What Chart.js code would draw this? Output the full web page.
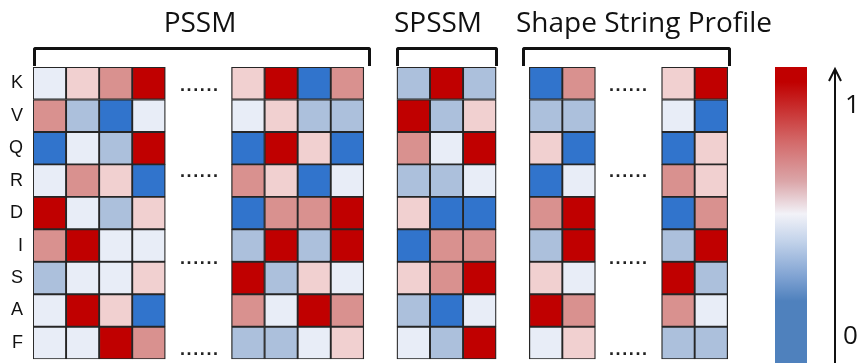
<!DOCTYPE html>
<html>
<head>
<meta charset="utf-8">
<script src="https://cdn.jsdelivr.net/npm/chart.js@4"></script>
<style>
  html, body { margin: 0; padding: 0; background: #fff; overflow: hidden; }
  #wrap { position: relative; width: 858px; height: 363px; overflow: hidden; }
  canvas { position: absolute; left: 0; top: 0; }
  .title { position: absolute; font-family: "Open Sans", sans-serif; font-size: 28px; line-height: 28px; color: #111; text-align: center; white-space: nowrap; }
  .bracket { position: absolute; border: 3px solid #111; border-bottom: none; border-radius: 3px 3px 0 0; height: 16px; }
  .dots { position: absolute; font-family: "Liberation Sans", Arial, sans-serif; font-size: 18px; line-height: 18px; letter-spacing: 1.6px; color: #222; font-weight: bold; }
  .cbar { position: absolute; left: 775px; top: 67px; width: 32px; height: 300px;
    background: linear-gradient(to bottom, #c00000 0%, #c00000 5%, #d36a6a 25%, #dba5a8 38%, #f2f2f8 49%, #c3d3ea 58%, #7fa2d2 70%, #4f81bd 78%, #4f81bd 100%); }
  .cl { position: absolute; font-family: "Open Sans", sans-serif; font-size: 26px; line-height: 26px; color: #111; }
</style>
</head>
<body>
<div id="wrap">
  <canvas id="heat" width="858" height="380"></canvas>

  <div class="title" style="left:100px; top:7px; width:200px;">PSSM</div>
  <div class="title" style="left:338px; top:7px; width:200px;">SPSSM</div>
  <div class="title" style="left:494px; top:7px; width:300px;">Shape String Profile</div>

  <div class="bracket" style="left:33px; top:47px; width:332px;"></div>
  <div class="bracket" style="left:396px; top:47px; width:96px;"></div>
  <div class="bracket" style="left:522px; top:47px; width:203px;"></div>

  <div class="dots" style="left:180px; top:76px;">......</div>
  <div class="dots" style="left:180px; top:162px;">......</div>
  <div class="dots" style="left:180px; top:249px;">......</div>
  <div class="dots" style="left:180px; top:340px;">......</div>
  <div class="dots" style="left:609px; top:76px;">......</div>
  <div class="dots" style="left:609px; top:162px;">......</div>
  <div class="dots" style="left:609px; top:249px;">......</div>
  <div class="dots" style="left:609px; top:340px;">......</div>

  <div class="cbar"></div>
  <svg style="position:absolute; left:820px; top:60px;" width="30" height="310">
    <line x1="15" y1="9" x2="15" y2="310" stroke="#111" stroke-width="2"/>
    <polyline points="9,21 15,9 21,21" fill="none" stroke="#111" stroke-width="2"/>
  </svg>
  <div class="cl" style="left:845px; top:90px;">1</div>
  <div class="cl" style="left:843px; top:321px;">0</div>
</div>

<script>
// amino acid rows, top to bottom
const rows = ['K', 'V', 'Q', 'R', 'D', 'I', 'S', 'A', 'F'];

// normalised values (0 = blue, 1 = red), one inner array per row
const pssmLeft = [
  [0.45, 0.6, 0.75, 1],
  [0.75, 0.25, 0, 0.45],
  [0, 0.45, 0.25, 1],
  [0.45, 0.75, 0.6, 0],
  [1, 0.45, 0.25, 0.6],
  [0.75, 1, 0.45, 0.45],
  [0.25, 0.45, 0.45, 0.6],
  [0.45, 1, 0.6, 0],
  [0.45, 0.45, 1, 0.75]
];
const pssmRight = [
  [0.6, 1, 0, 0.75],
  [0.45, 0.6, 0.25, 0.25],
  [0, 1, 0.6, 0],
  [0.75, 0.6, 0, 0.45],
  [0, 0.75, 0.75, 1],
  [0.25, 1, 0.25, 1],
  [1, 0.25, 0.6, 0.45],
  [0.75, 0.45, 1, 0.75],
  [0.25, 0.25, 0.45, 0.6]
];
const spssm = [
  [0.25, 1, 0.25],
  [1, 0.25, 0.6],
  [0.75, 0.45, 1],
  [0.25, 0.25, 0.45],
  [0.6, 0, 0],
  [0, 0.75, 0.75],
  [0.6, 0.75, 1],
  [0.25, 0, 0.45],
  [0.45, 0.25, 1]
];
const sspLeft = [
  [0, 0.75],
  [0.25, 0.25],
  [0.6, 0],
  [0, 0.45],
  [0.75, 1],
  [0.25, 1],
  [0.6, 0.45],
  [1, 0.75],
  [0.45, 0.6]
];
const sspRight = [
  [0.6, 1],
  [0.45, 0],
  [0, 0.6],
  [0.75, 0.6],
  [0, 0.75],
  [0.25, 1],
  [1, 0.25],
  [0.75, 0.45],
  [0.25, 0.25]
];

// colour stops for the blue-white-red scale
const palette = [
  [0, [49, 116, 204]],
  [0.25, [172, 192, 220]],
  [0.45, [232, 237, 247]],
  [0.6, [241, 208, 208]],
  [0.75, [217, 145, 143]],
  [1, [192, 0, 0]]
];

function colorFor(v) {
  for (let i = 1; i < palette.length; i++) {
    const [v1, c1] = palette[i];
    const [v0, c0] = palette[i - 1];
    if (v <= v1) {
      const t = (v - v0) / (v1 - v0);
      const c = c0.map((x, k) => Math.round(x + (c1[k] - x) * t));
      return `rgb(${c[0]},${c[1]},${c[2]})`;
    }
  }
  return 'rgb(192,0,0)';
}

// block -> first column slot on the x scale (gaps hold the "......")
const blocks = [
  { values: pssmLeft, start: 0 },
  { values: pssmRight, start: 6 },
  { values: spssm, start: 11 },
  { values: sspLeft, start: 15 },
  { values: sspRight, start: 19 }
];

const datasets = [];
blocks.forEach(b => {
  const nCols = b.values[0].length;
  for (let c = 0; c < nCols; c++) {
    datasets.push({
      data: rows.map(() => [b.start + c, b.start + c + 1]),
      backgroundColor: b.values.map(r => colorFor(r[c])),
      borderColor: '#262626',
      borderWidth: 1.3,
      borderSkipped: false,
      grouped: false,
      barPercentage: 1,
      categoryPercentage: 1
    });
  }
});

new Chart(document.getElementById('heat'), {
  type: 'bar',
  data: { labels: rows, datasets: datasets },
  options: {
    indexAxis: 'y',
    responsive: false,
    animation: false,
    layout: { padding: { top: 67, bottom: 13, left: 0, right: 31 } },
    plugins: { legend: { display: false }, tooltip: { enabled: false } },
    scales: {
      x: { type: 'linear', min: 0, max: 24, display: false },
      y: {
        grid: { display: false, drawTicks: false },
        border: { display: false },
        ticks: {
          color: '#111',
          padding: 10,
          font: { family: '"Liberation Sans", Arial, sans-serif', size: 18 }
        },
        afterFit(scale) { scale.width = 33; }
      }
    }
  }
});
</script>
</body>
</html>
